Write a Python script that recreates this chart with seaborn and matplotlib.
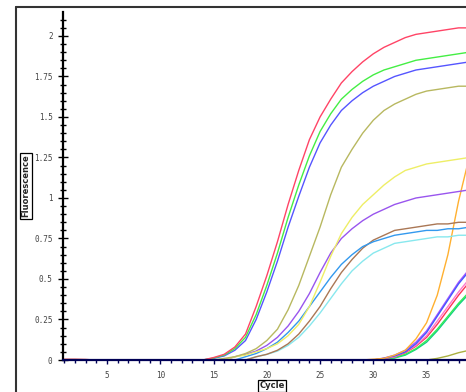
#!/usr/bin/env python3
"""
plot.py
-----------------------------------
qPCR amplification curves (Fluorescence vs Cycle).
Output: out.png
"""

import pandas as pd
import matplotlib.pyplot as plt
import seaborn as sns
from matplotlib.ticker import MultipleLocator, FuncFormatter
from matplotlib.lines import Line2D

cycles = list(range(1, 41))

# early wells (Ct ~ 18-22)
red_a = [0.0] * 14 + [0.015, 0.035, 0.08, 0.16, 0.33, 0.52, 0.73, 0.96, 1.17, 1.36, 1.50, 1.61, 1.71,
                      1.78, 1.84, 1.89, 1.93, 1.96, 1.99, 2.01, 2.02, 2.03, 2.04, 2.05, 2.05, 2.06]
green_a = [0.0] * 14 + [0.012, 0.03, 0.07, 0.14, 0.28, 0.46, 0.66, 0.88, 1.08, 1.26, 1.41, 1.52, 1.61,
                        1.67, 1.72, 1.76, 1.79, 1.81, 1.83, 1.85, 1.86, 1.87, 1.88, 1.89, 1.90, 1.90]
blue_a = [0.0] * 14 + [0.01, 0.025, 0.06, 0.12, 0.25, 0.42, 0.61, 0.82, 1.01, 1.19, 1.34, 1.45, 1.54,
                       1.60, 1.65, 1.69, 1.72, 1.75, 1.77, 1.79, 1.80, 1.81, 1.82, 1.83, 1.84, 1.84]
olive_a = [0.0] * 15 + [0.01, 0.02, 0.04, 0.07, 0.12, 0.19, 0.31, 0.46, 0.64, 0.82, 1.02, 1.19, 1.30,
                        1.40, 1.48, 1.54, 1.58, 1.61, 1.64, 1.66, 1.67, 1.68, 1.69, 1.69, 1.70]
yellow_a = [0.0] * 16 + [0.02, 0.03, 0.05, 0.07, 0.10, 0.15, 0.22, 0.33, 0.48, 0.64, 0.78, 0.88, 0.96,
                         1.02, 1.08, 1.13, 1.17, 1.19, 1.21, 1.22, 1.23, 1.24, 1.25, 1.25]
purple_a = [0.0] * 16 + [0.02, 0.035, 0.055, 0.09, 0.14, 0.21, 0.30, 0.41, 0.54, 0.66, 0.75, 0.81, 0.86,
                         0.90, 0.93, 0.96, 0.98, 1.00, 1.01, 1.02, 1.03, 1.04, 1.05, 1.05]
sky_a = [0.0] * 17 + [0.02, 0.04, 0.07, 0.11, 0.17, 0.24, 0.33, 0.42, 0.51, 0.59, 0.65, 0.70, 0.73,
                      0.75, 0.77, 0.78, 0.79, 0.80, 0.80, 0.81, 0.81, 0.82, 0.82]
brown_a = [0.0] * 18 + [0.02, 0.035, 0.06, 0.10, 0.16, 0.24, 0.33, 0.44, 0.54, 0.62, 0.69, 0.74, 0.77,
                        0.80, 0.81, 0.82, 0.83, 0.84, 0.84, 0.85, 0.85, 0.86]
cyan_a = [0.0] * 18 + [0.02, 0.035, 0.055, 0.09, 0.14, 0.21, 0.29, 0.38, 0.47, 0.55, 0.61, 0.66, 0.69,
                       0.72, 0.73, 0.74, 0.75, 0.76, 0.76, 0.77, 0.77, 0.77]

# late wells (Ct ~ 33-36)
orange_b = [0.0] * 29 + [0.005, 0.01, 0.03, 0.06, 0.13, 0.23, 0.40, 0.65, 0.98, 1.25, 1.45]
blue_b = [0.0] * 30 + [0.01, 0.025, 0.05, 0.10, 0.17, 0.27, 0.37, 0.47, 0.55, 0.62]
purple_b = [0.0] * 30 + [0.012, 0.03, 0.06, 0.11, 0.18, 0.28, 0.38, 0.48, 0.56, 0.63]
pink_b = [0.0] * 30 + [0.01, 0.02, 0.05, 0.09, 0.15, 0.24, 0.33, 0.42, 0.50, 0.57]
red_b = [0.0] * 30 + [0.008, 0.02, 0.045, 0.085, 0.14, 0.22, 0.31, 0.40, 0.48, 0.55]
green_b = [0.0] * 30 + [0.005, 0.015, 0.035, 0.07, 0.12, 0.19, 0.27, 0.35, 0.42, 0.49]
teal_b = [0.0] * 30 + [0.005, 0.012, 0.03, 0.065, 0.11, 0.18, 0.26, 0.34, 0.41, 0.48]
olive_b = [0.0] * 35 + [0.01, 0.025, 0.045, 0.06, 0.08]

# negative wells (flat)
neg_navy = [0.0] * 40
neg_green = [0.0] * 40
neg_red = [0.004, 0.004, 0.003] + [0.0] * 37
neg_teal = [0.0] * 40

wells = {
    "neg_navy": (neg_navy, "#000088"),
    "neg_green": (neg_green, "#008800"),
    "neg_teal": (neg_teal, "#009999"),
    "neg_red": (neg_red, "#cc0000"),
    "olive_b": (olive_b, "#aab040"),
    "teal_b": (teal_b, "#11cc88"),
    "green_b": (green_b, "#33ee55"),
    "red_b": (red_b, "#ff3355"),
    "pink_b": (pink_b, "#ff77cc"),
    "purple_b": (purple_b, "#aa55ff"),
    "blue_b": (blue_b, "#4455ff"),
    "orange_b": (orange_b, "#ffb030"),
    "cyan_a": (cyan_a, "#88e8ee"),
    "brown_a": (brown_a, "#aa7755"),
    "sky_a": (sky_a, "#3399ee"),
    "purple_a": (purple_a, "#9955ee"),
    "yellow_a": (yellow_a, "#eeee66"),
    "olive_a": (olive_a, "#b8b860"),
    "blue_a": (blue_a, "#5555ff"),
    "green_a": (green_a, "#44ee44"),
    "red_a": (red_a, "#ff4466"),
}

rows = []
for name, (vals, _) in wells.items():
    for c, v in zip(cycles, vals):
        rows.append([name, c, v])
df = pd.DataFrame(rows, columns=["Well", "Cycle", "Fluorescence"])
palette = {name: col for name, (_, col) in wells.items()}

sns.set_style("white")
plt.rcParams["font.family"] = ["DejaVu Sans"]

fig = plt.figure(figsize=(4.66, 3.92), dpi=100)
ax = fig.add_axes([63 / 466, 32 / 392, 1 - 63 / 466, 348 / 392])

sns.lineplot(data=df, x="Cycle", y="Fluorescence", hue="Well", hue_order=list(wells.keys()),
             palette=palette, linewidth=1.0, legend=False, ax=ax)

ax.set_xlim(0.87, 38.7)
ax.set_ylim(0, 2.148)
ax.set_xlabel("")
ax.set_ylabel("")

for s in ["top", "right"]:
    ax.spines[s].set_visible(False)
ax.spines["left"].set_linewidth(1.6)
ax.spines["bottom"].set_linewidth(1.6)
ax.spines["left"].set_color("black")
ax.spines["bottom"].set_color("#000055")

ax.yaxis.set_major_locator(MultipleLocator(0.25))
ax.yaxis.set_minor_locator(MultipleLocator(0.05))
ax.xaxis.set_major_locator(MultipleLocator(5))
ax.xaxis.set_minor_locator(MultipleLocator(1))
ax.yaxis.set_major_formatter(FuncFormatter(lambda v, p: "%g" % v))
ax.xaxis.set_major_formatter(FuncFormatter(lambda v, p: "%g" % v))

ax.tick_params(axis="y", which="both", left=True)
ax.tick_params(axis="x", which="both", bottom=True)
ax.tick_params(axis="y", which="major", direction="inout", length=7, width=1, pad=4,
               labelsize=5.5, labelcolor="#444444", colors="black")
ax.tick_params(axis="y", which="minor", direction="inout", length=4, width=1, colors="black")
ax.tick_params(axis="x", which="major", direction="out", length=3, width=1, pad=5,
               labelsize=5.5, labelcolor="#444444", colors="#000055")
ax.tick_params(axis="x", which="minor", direction="out", length=2.5, width=1, colors="#000055")
for lbl in ax.get_xticklabels() + ax.get_yticklabels():
    lbl.set_family("DejaVu Sans Mono")
    lbl.set_color("#444444")

box = dict(boxstyle="square,pad=0.2", fc="white", ec="black", lw=0.9)
fig.text(26 / 466, 1 - 186 / 392, "Fluorescence", rotation=90, ha="center", va="center",
         fontsize=6, fontweight="bold", bbox=box)
fig.text(272 / 466, 1 - 386 / 392, "Cycle", ha="center", va="center",
         fontsize=6, fontweight="bold", bbox=box)

# outer window frame
fig.add_artist(Line2D([16 / 466, 1], [1 - 7 / 392, 1 - 7 / 392], color="#333333", lw=1.5))
fig.add_artist(Line2D([16 / 466, 16 / 466], [0, 1 - 7 / 392], color="#333333", lw=1.5))

fig.savefig("out.png", dpi=100)
plt.close(fig)
